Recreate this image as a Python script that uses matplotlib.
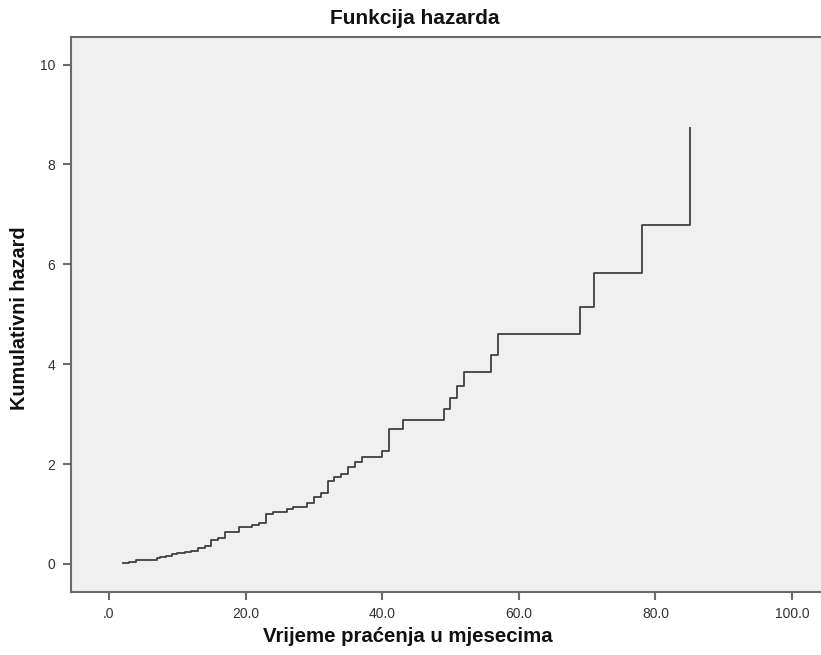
import matplotlib
matplotlib.use("Agg")
import matplotlib.pyplot as plt

plt.rcParams['font.family'] = ['Liberation Sans', 'DejaVu Sans']

# Event times (months) and cumulative hazard after each event
times = [2, 3, 4, 7, 7.5, 8.3, 9.2, 10, 11.2, 12, 13, 14, 15, 16, 17, 19, 21, 22,
         23, 24, 26, 27, 29, 30, 31, 32, 33, 34, 35, 36, 37, 40, 41, 43, 49, 50,
         51, 52, 56, 57, 69, 71, 78, 85]
hazard = [0.01, 0.03, 0.07, 0.11, 0.13, 0.16, 0.19, 0.21, 0.24, 0.25, 0.32, 0.36,
          0.49, 0.52, 0.64, 0.735, 0.775, 0.815, 1.01, 1.05, 1.10, 1.15, 1.22, 1.35,
          1.42, 1.66, 1.74, 1.81, 1.94, 2.05, 2.15, 2.27, 2.71, 2.89, 3.10, 3.32,
          3.57, 3.85, 4.19, 4.60, 5.14, 5.83, 6.78, 8.73]

xticks = [0, 20, 40, 60, 80, 100]
xticklabels = [".0", "20.0", "40.0", "60.0", "80.0", "100.0"]
yticks = [0, 2, 4, 6, 8, 10]

title = "Funkcija hazarda"
xlabel = "Vrijeme praćenja u mjesecima"
ylabel = "Kumulativni hazard"

W, H = 821, 655
fig = plt.figure(figsize=(W / 100, H / 100), dpi=100)
left, right, bottom, top = 70.7, 829.6, 591.7, 36.7
ax = fig.add_axes([left / W, 1 - bottom / H, (right - left) / W, (bottom - top) / H])
ax.set_facecolor("#F0F0F0")

ax.step(times, hazard, where="post", color="#404040", linewidth=1.3)

ax.set_xlim(-5.6, 105.5)
ax.set_ylim(-0.555, 10.557)
ax.set_xticks(xticks)
ax.set_xticklabels(xticklabels)
ax.set_yticks(yticks)

spine_col = "#6A6A6A"
for s in ax.spines.values():
    s.set_color(spine_col)
    s.set_linewidth(1.5)
ax.tick_params(direction="out", length=6, width=1.5, color=spine_col,
               labelsize=10, labelcolor="#333333", pad=5)

fig.text(415 / W, 1 - 19 / H, title, ha="center", va="center",
         fontsize=15, fontweight="bold", color="#111111")
fig.text(408 / W, 1 - 636 / H, xlabel, ha="center", va="center",
         fontsize=14.7, fontweight="bold", color="#111111")
fig.text(20 / W, 1 - 318 / H, ylabel, ha="center", va="center", rotation=90,
         fontsize=14.3, fontweight="bold", color="#111111")

fig.savefig("out.png", dpi=100, facecolor="white")
